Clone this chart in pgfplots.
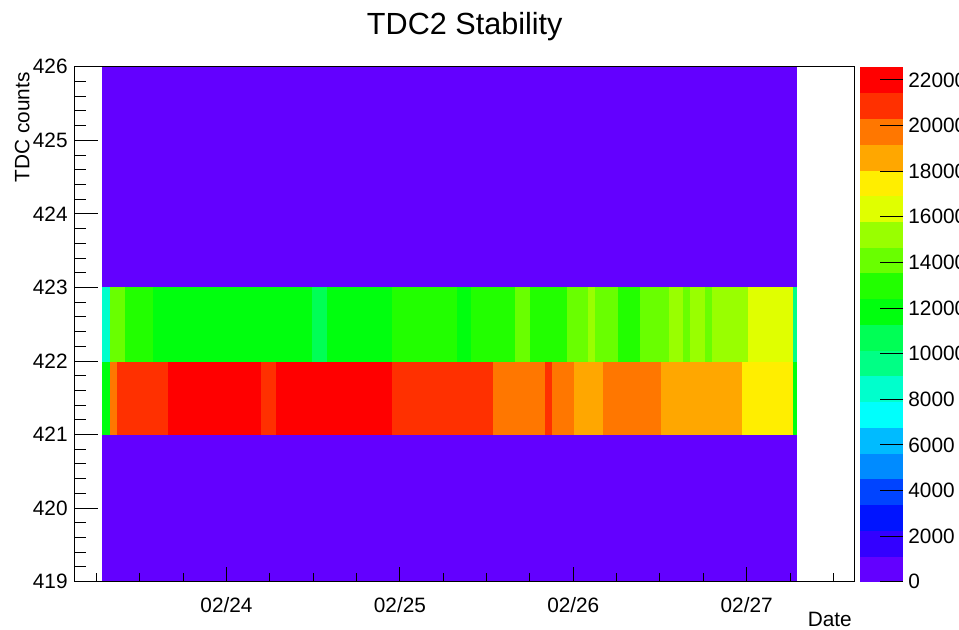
\documentclass[border=0pt]{standalone}
\usepackage{fontspec}
\setmainfont{Liberation Sans}
\usepackage{pgfplots}
\pgfplotsset{compat=1.18}
\pgfplotsset{
  /pgf/number format/.cd, 1000 sep={}, assume math mode=true,
  /pgfplots/.cd,
  colormap={rootpretty}{
    rgb255=(99,0,255) rgb255=(51,0,255) rgb255=(0,20,255) rgb255=(0,68,255)
    rgb255=(0,139,255) rgb255=(0,187,255) rgb255=(0,255,252) rgb255=(0,255,204)
    rgb255=(0,255,133) rgb255=(0,255,85) rgb255=(0,255,14) rgb255=(34,255,0)
    rgb255=(105,255,0) rgb255=(153,255,0) rgb255=(224,255,0) rgb255=(255,238,0)
    rgb255=(255,167,0) rgb255=(255,119,0) rgb255=(255,48,0) rgb255=(255,0,0)},
}
\newcommand{\tickfont}{\fontsize{10.4}{12}\selectfont}
\begin{document}
\begin{tikzpicture}
\useasboundingbox (0,0) rectangle (479.5pt,314.5pt);
\begin{axis}[
  at={(37.5pt,23.65pt)}, anchor=south west,
  scale only axis, width=389.75pt, height=257.5pt,
  xmin=0.1263, xmax=4.6217, ymin=419, ymax=426,
  axis on top,
  colormap name=rootpretty,
  colormap access=piecewise constant,
  point meta min=0, point meta max=22580,
  xtick={1,2,3,4}, xticklabels={02/24,02/25,02/26,02/27},
  minor xtick={0.25,0.5,0.75,1.25,1.5,1.75,2.25,2.5,2.75,3.25,3.5,3.75,4.25,4.5},
  xtick pos=left, tick align=inside,
  major tick length=7.5pt, minor tick length=4.2pt,
  ytick=\empty,
  every tick/.style={black, line width=0.5pt},
  axis line style={black, line width=0.5pt},
  xticklabel style={anchor=base, yshift=-15.2pt, font=\tickfont},
  title={TDC2 Stability},
  every axis title/.style={at={(0.5,1)}, anchor=base, yshift=16.1pt, font=\fontsize{15.3}{18}\selectfont},
  xlabel={Date},
  every axis x label/.style={at={(1,0)}, anchor=base east, inner sep=0pt, yshift=-22.6pt, xshift=-1.2pt, font=\tickfont},
  ylabel={TDC counts},
  every axis y label/.style={at={(-0.0584,1.003)}, anchor=base east, rotate=90, font=\tickfont},
  colorbar right,
  colorbar shift/.style={xshift=2.75pt},
  colorbar style={
    at={(parent axis.north east)}, anchor=north west,
    width=21.5pt,
    axis line style={draw=none},
    ytick={0,2000,4000,6000,8000,10000,12000,14000,16000,18000,20000,22000},
    scaled y ticks=false,
    ytick pos=right, yticklabel pos=right,
    tick align=inside, ytick align=inside,
    major tick length=11.5pt,
    minor y tick num=0,
    every tick/.style={black, line width=0.5pt},
    yticklabel style={anchor=west, inner sep=0pt, xshift=2.5pt, font=\tickfont},
  },
]
% empty-count bins (purple), whole filled x range
\addplot[surf, shader=flat corner, point meta=explicit] table[meta=c] {
x y c
0.286 419 0
4.284 419 0

0.286 426 0
4.284 426 0
};
% TDC bin 421-422
\addplot[surf, shader=flat corner, point meta=explicit] table[meta=c] {
x y c
0.286 421 11860
0.332 421 19760
0.370 421 20890
0.663 421 22010
1.201 421 20890
1.286 421 22010
1.954 421 20890
2.542 421 19760
2.838 421 20890
2.877 421 19760
3.004 421 18630
3.171 421 19760
3.506 421 18630
3.973 421 17500
4.267 421 11860
4.284 421 11860

0.286 422 11860
0.332 422 19760
0.370 422 20890
0.663 422 22010
1.201 422 20890
1.286 422 22010
1.954 422 20890
2.542 422 19760
2.838 422 20890
2.877 422 19760
3.004 422 18630
3.171 422 19760
3.506 422 18630
3.973 422 17500
4.267 422 11860
4.284 422 11860
};
% TDC bin 422-423
\addplot[surf, shader=flat corner, point meta=explicit] table[meta=c] {
x y c
0.286 422 8470
0.332 422 14120
0.415 422 12990
0.576 422 11860
1.493 422 10730
1.580 422 11860
1.954 422 12990
2.332 422 11860
2.412 422 12990
2.667 422 14120
2.755 422 12990
2.964 422 14120
3.088 422 15250
3.127 422 14120
3.258 422 12990
3.385 422 14120
3.555 422 15250
3.633 422 14120
3.678 422 15250
3.762 422 14120
3.800 422 15250
4.011 422 16370
4.267 422 9600
4.284 422 9600

0.286 423 8470
0.332 423 14120
0.415 423 12990
0.576 423 11860
1.493 423 10730
1.580 423 11860
1.954 423 12990
2.332 423 11860
2.412 423 12990
2.667 423 14120
2.755 423 12990
2.964 423 14120
3.088 423 15250
3.127 423 14120
3.258 423 12990
3.385 423 14120
3.555 423 15250
3.633 423 14120
3.678 423 15250
3.762 423 14120
3.800 423 15250
4.011 423 16370
4.267 423 9600
4.284 423 9600
};
\end{axis}
% y axis ticks (longer tick marks than the x axis)
\begin{axis}[
  at={(37.5pt,23.65pt)}, anchor=south west,
  scale only axis, width=389.75pt, height=257.5pt,
  xmin=0.1263, xmax=4.6217, ymin=419, ymax=426,
  xtick=\empty,
  ytick={419,420,421,422,423,424,425,426},
  minor y tick num=4,
  ytick pos=left, tick align=inside,
  major tick length=11.5pt, minor tick length=5.5pt,
  every tick/.style={black, line width=0.5pt},
  axis line style={black, line width=0.5pt},
  yticklabel style={anchor=east, inner sep=0pt, xshift=-3.5pt, font=\tickfont},
]
\end{axis}
\end{tikzpicture}
\end{document}
